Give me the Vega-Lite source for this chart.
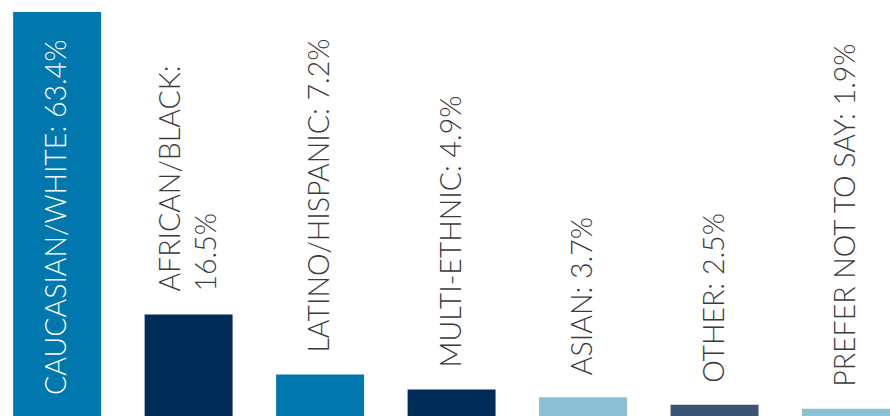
{
  "$schema": "https://vega.github.io/schema/vega-lite/v6.json",
  "width": 890,
  "height": 421,
  "autosize": {"type": "none"},
  "padding": 0,
  "background": "white",
  "config": {"view": {"stroke": null}},
  "data": {
    "values": [
      {"category": "Caucasian/White", "value": 63.4, "label": "CAUCASIAN/WHITE: 63.4%", "inside": true, "multi": false},
      {"category": "African/Black", "value": 16.5, "label": "AFRICAN/BLACK:\n16.5%", "inside": false, "multi": true},
      {"category": "Latino/Hispanic", "value": 7.2, "label": "LATINO/HISPANIC: 7.2%", "inside": false, "multi": false},
      {"category": "Multi-ethnic", "value": 4.9, "label": "MULTI-ETHNIC: 4.9%", "inside": false, "multi": false},
      {"category": "Asian", "value": 3.7, "label": "ASIAN: 3.7%", "inside": false, "multi": false},
      {"category": "Other", "value": 2.5, "label": "OTHER: 2.5%", "inside": false, "multi": false},
      {"category": "Prefer not to say", "value": 1.9, "label": "PREFER NOT TO SAY: 1.9%", "inside": false, "multi": false}
    ]
  },
  "encoding": {
    "x": {
      "field": "category",
      "type": "nominal",
      "sort": null,
      "axis": null,
      "scale": {"paddingInner": 0.331, "paddingOuter": 0.05, "align": 1}
    }
  },
  "layer": [
    {
      "mark": {"type": "bar"},
      "encoding": {
        "y": {"field": "value", "type": "quantitative", "axis": null, "scale": {"domain": [0, 65.27], "nice": false, "zero": true}},
        "color": {
          "field": "category",
          "type": "nominal",
          "legend": null,
          "scale": {
            "domain": ["Caucasian/White", "African/Black", "Latino/Hispanic", "Multi-ethnic", "Asian", "Other", "Prefer not to say"],
            "range": ["#0078AD", "#002D57", "#0078AD", "#002D57", "#8BBFD4", "#3A5475", "#8BBFD4"]
          }
        }
      }
    },
    {
      "transform": [{"filter": "!datum.inside && !datum.multi"}],
      "mark": {"type": "text", "angle": 270, "align": "left", "baseline": "middle", "dx": 22, "font": "Lato", "fontWeight": 300, "fontSize": 28.5, "color": "#3a3a3a"},
      "encoding": {
        "y": {"field": "value", "type": "quantitative"},
        "text": {"field": "label"}
      }
    },
    {
      "transform": [{"filter": "datum.multi"}],
      "mark": {"type": "text", "angle": 270, "align": "left", "baseline": "middle", "dx": 23, "dy": -18, "font": "Lato", "fontWeight": 300, "fontSize": 28.5, "lineHeight": 36, "lineBreak": "\n", "color": "#3a3a3a"},
      "encoding": {
        "y": {"field": "value", "type": "quantitative"},
        "text": {"field": "label"}
      }
    },
    {
      "transform": [{"filter": "datum.inside"}],
      "mark": {"type": "text", "angle": 270, "align": "left", "baseline": "middle", "dx": 26, "font": "Lato", "fontWeight": 300, "fontSize": 28.5, "color": "white"},
      "encoding": {
        "y": {"datum": 0, "type": "quantitative"},
        "text": {"field": "label"}
      }
    }
  ]
}
